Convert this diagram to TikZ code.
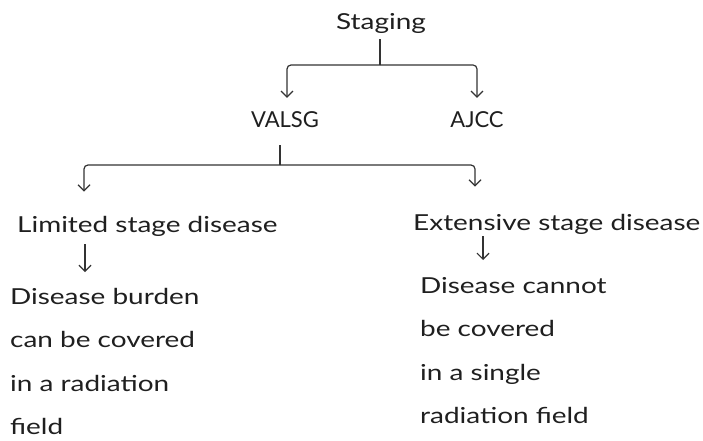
\documentclass[tikz,border=0pt]{standalone}
\usepackage{fontspec}
\setmainfont{Lato}
\newfontfamily\handfont[FakeStretch=1.27]{Lato}
\usetikzlibrary{arrows.meta}
\begin{document}
\begin{tikzpicture}[x=1pt,y=-1pt,
  txt/.style={inner sep=0pt, text=black!88, font=\fontsize{22}{43.5}\selectfont},
  hand/.style={txt, font=\fontsize{22}{43.5}\selectfont\handfont},
  blk/.style={hand, align=left, anchor=north west},
  line/.style={draw=black!80, line width=1.2pt, rounded corners=4pt},
  arr/.style={line, -{Straight Barb[length=6pt,width=12pt]}}]
\useasboundingbox (0,0) rectangle (703,441);
\fill[white] (0,0) rectangle (703,441);
% nodes
\node[hand, anchor=base] (staging) at (381,30) {Staging};
\node[txt, anchor=base] (valsg) at (285,127) {VALSG};
\node[txt, anchor=base] (ajcc) at (477,127) {AJCC};
\node[hand, anchor=base west] (limited) at (17,232) {Limited stage disease};
\node[hand, anchor=base west] (extensive) at (413,230) {Extensive stage disease};
\node[blk] (ltext) at (10,288) {Disease burden\\can be covered\\in a radiation\\field};
\node[blk] (etext) at (420,277) {Disease cannot\\be covered\\in a single\\radiation field};
% junctions
\coordinate (s1) at (380,65);
\coordinate (s2) at (280,165);
% connectors
\draw[line] ([xshift=-1pt,yshift=-5pt]staging.south) -- (s1);
\draw[arr] (s1) -| ([xshift=2pt,yshift=13pt]valsg.north);
\draw[arr] (s1) -| ([yshift=13pt]ajcc.north);
\draw[line] ([xshift=-5pt,yshift=-18pt]valsg.south) -- (s2);
\draw[arr] (s2) -| ([xshift=67pt,yshift=24pt]limited.north west);
\draw[arr] (s2) -| ([xshift=62pt,yshift=27pt]extensive.north west);
\draw[arr] ([xshift=68pt,yshift=-8pt]limited.south west) -- ([xshift=75pt,yshift=16pt]ltext.north west);
\draw[arr] ([xshift=70pt,yshift=-2pt]extensive.south west) -- ([xshift=63pt,yshift=17pt]etext.north west);
\end{tikzpicture}
\end{document}
